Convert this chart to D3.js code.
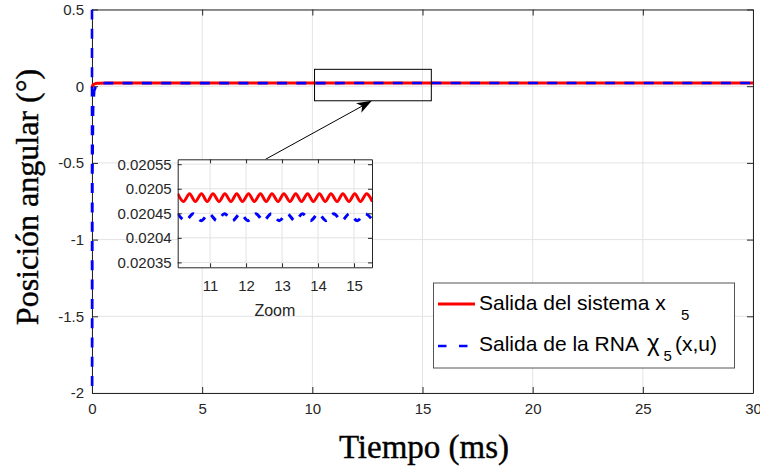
<!DOCTYPE html>
<html>
<head>
<meta charset="utf-8">
<script src="https://cdn.jsdelivr.net/npm/d3@7/dist/d3.min.js"></script>
<style>
body { margin: 0; background: #fff; }
svg { display: block; font-family: "Liberation Sans", Arial, sans-serif; }
</style>
</head>
<body>
<div id="viz"></div>
<script>
//Datos
const mainTicksX = [0, 5, 10, 15, 20, 25, 30];
const mainTickLabelsX = ['0', '5', '10', '15', '20', '25', '30'];
const mainTicksY = [-2, -1.5, -1, -0.5, 0, 0.5];
const mainTickLabelsY = ['-2', '-1.5', '-1', '-0.5', '0', '0.5'];
const zoomTicksX = [11, 12, 13, 14, 15];
const zoomTickLabelsX = ['11', '12', '13', '14', '15'];
const zoomTicksY = [0.02035, 0.0204, 0.02045, 0.0205, 0.02055];
const zoomTickLabelsY = ['0.02035', '0.0204', '0.02045', '0.0205', '0.02055'];

//Salida del sistema (respuesta completa)
const redT = [0, 0.03, 0.08, 0.15, 0.25, 0.4, 0.6, 1, 30];
const redY = [-0.01, 0.005, 0.012, 0.017, 0.019, 0.02, 0.0204, 0.0205, 0.0205];
//Salida de la RNA
const blueT = [0, 0.004, 0.02, 0.05, 0.1, 0.2, 0.35, 0.6, 30];
const blueY = [0.6, -2.3, -0.6, -0.15, -0.03, 0.008, 0.017, 0.0203, 0.0205];

const zoomRedT = [10.10, 10.26, 10.43, 10.59, 10.76, 10.92, 11.08, 11.25, 11.41, 11.58, 11.74, 11.90,
    12.07, 12.23, 12.40, 12.56, 12.72, 12.89, 13.05, 13.22, 13.38, 13.54, 13.71, 13.87, 14.04, 14.20,
    14.36, 14.53, 14.69, 14.86, 15.02, 15.18, 15.35, 15.51];
const zoomRedY = [0.02049, 0.020474, 0.02049, 0.020474, 0.02049, 0.020474, 0.02049, 0.020474, 0.02049,
    0.020474, 0.02049, 0.020474, 0.02049, 0.020474, 0.02049, 0.020474, 0.02049, 0.020474, 0.02049,
    0.020474, 0.02049, 0.020474, 0.02049, 0.020474, 0.02049, 0.020474, 0.02049, 0.020474, 0.02049,
    0.020474, 0.02049, 0.020474, 0.02049, 0.020474];
const zoomBlueT = [10.10, 10.32, 10.53, 10.75, 10.97, 11.19, 11.40, 11.62, 11.84, 12.05, 12.27, 12.49,
    12.70, 12.92, 13.14, 13.36, 13.57, 13.79, 14.01, 14.22, 14.44, 14.66, 14.87, 15.09, 15.31, 15.53];
const zoomBlueY = [0.020449, 0.020435, 0.020449, 0.020435, 0.020449, 0.020435, 0.020449, 0.020435,
    0.020449, 0.020435, 0.020449, 0.020435, 0.020449, 0.020435, 0.020449, 0.020435, 0.020449, 0.020435,
    0.020449, 0.020435, 0.020449, 0.020435, 0.020449, 0.020435, 0.020449, 0.020435];

//Recuadro de zoom y flecha (coordenadas de datos)
const zoomBoxX = [10.1, 15.4];
const zoomBoxY = [-0.095, 0.11];
const arrowFrom = [7.87, -0.477];
const arrowTo = [12.7, -0.095];

//Colores
const COLOR_RED = '#ff0000', COLOR_BLUE = '#0000ff', COLOR_AXIS = '#262626', COLOR_GRID = '#e3e3e3';

let width = 760, height = 472;
let plot = {left: 92, right: 753, top: 9.5, bottom: 393};
let ins = {left: 177.7, right: 372, top: 159.3, bottom: 267.3};

let svg = d3.select('#viz').append('svg')
    .attr('width', width)
    .attr('height', height);

let x = d3.scaleLinear().domain([0, 30]).range([plot.left, plot.right]);
let y = d3.scaleLinear().domain([-2, 0.5]).range([plot.bottom, plot.top]);

//Rejilla
let grid = svg.append('g');
grid.selectAll('.gx').data(mainTicksX).enter().append('line')
    .attr('x1', d => x(d)).attr('x2', d => x(d))
    .attr('y1', plot.top).attr('y2', plot.bottom)
    .attr('stroke', COLOR_GRID);
grid.selectAll('.gy').data(mainTicksY).enter().append('line')
    .attr('y1', d => y(d)).attr('y2', d => y(d))
    .attr('x1', plot.left).attr('x2', plot.right)
    .attr('stroke', COLOR_GRID);

//Ejes
function styleAxis(g, fs) {
    g.attr('font-size', fs).attr('font-family', '"Liberation Sans", Arial, sans-serif');
    g.selectAll('.domain').attr('stroke', COLOR_AXIS);
    g.selectAll('.tick line').attr('stroke', COLOR_AXIS);
    g.selectAll('.tick text').attr('fill', COLOR_AXIS);
}

svg.append('g')
    .attr('transform', 'translate(0,' + plot.bottom + ')')
    .call(d3.axisBottom(x).tickValues(mainTicksX).tickSizeInner(-6).tickSizeOuter(0).tickPadding(10)
        .tickFormat((d, i) => mainTickLabelsX[i]))
    .call(g => styleAxis(g, 15));
svg.append('g')
    .attr('transform', 'translate(' + plot.left + ',0)')
    .call(d3.axisLeft(y).tickValues(mainTicksY).tickSizeInner(-6).tickSizeOuter(0).tickPadding(8)
        .tickFormat((d, i) => mainTickLabelsY[i]))
    .call(g => styleAxis(g, 15));
svg.append('g')
    .attr('transform', 'translate(0,' + plot.top + ')')
    .call(d3.axisTop(x).tickValues(mainTicksX).tickSizeInner(-6).tickSizeOuter(0).tickFormat(''))
    .call(g => styleAxis(g, 15));
svg.append('g')
    .attr('transform', 'translate(' + plot.right + ',0)')
    .call(d3.axisRight(y).tickValues(mainTicksY).tickSizeInner(-6).tickSizeOuter(0).tickFormat(''))
    .call(g => styleAxis(g, 15));

//Curvas principales (sobre los ejes)
svg.append('clipPath').attr('id', 'clipMain').append('rect')
    .attr('x', plot.left - 2).attr('y', plot.top)
    .attr('width', plot.right - plot.left + 4).attr('height', plot.bottom - plot.top);

let line = d3.line().x(d => x(d[0])).y(d => y(d[1])).curve(d3.curveMonotoneX);
let lineLin = d3.line().x(d => x(d[0])).y(d => y(d[1]));

svg.append('path')
    .datum(redT.map((t, i) => [t, redY[i]]))
    .attr('clip-path', 'url(#clipMain)')
    .attr('fill', 'none').attr('stroke', COLOR_RED).attr('stroke-width', 3)
    .attr('d', line);

//Desfase del trazo para que la bajada y la subida junto al eje coincidan
let dashOn = 10, dashPeriod = 19.3;
let drop = Math.hypot(x(blueT[1]) - x(blueT[0]), y(blueY[1]) - y(blueY[0]));
let dashShift = (dashOn - ((2 * drop) % dashPeriod)) / 2;

svg.append('path')
    .datum(blueT.map((t, i) => [t, blueY[i]]))
    .attr('clip-path', 'url(#clipMain)')
    .attr('fill', 'none').attr('stroke', COLOR_BLUE).attr('stroke-width', 2.6)
    .attr('stroke-dasharray', dashOn + ',' + (dashPeriod - dashOn))
    .attr('stroke-dashoffset', dashShift)
    .attr('d', lineLin);

//Títulos de ejes
svg.append('text')
    .attr('x', 424).attr('y', 458)
    .attr('text-anchor', 'middle')
    .attr('font-family', '"Liberation Serif", "Times New Roman", serif')
    .attr('font-size', 33)
    .attr('stroke', '#000').attr('stroke-width', 0.4)
    .attr('fill', '#000')
    .text('Tiempo (ms)');
svg.append('text')
    .attr('transform', 'translate(38,197) rotate(-90)')
    .attr('text-anchor', 'middle')
    .attr('font-family', '"Liberation Serif", "Times New Roman", serif')
    .attr('font-size', 32)
    .attr('stroke', '#000').attr('stroke-width', 0.4)
    .attr('fill', '#000')
    .text('Posición angular (°)');

//Recuadro y flecha
svg.append('rect')
    .attr('x', x(zoomBoxX[0])).attr('y', y(zoomBoxY[1]))
    .attr('width', x(zoomBoxX[1]) - x(zoomBoxX[0]))
    .attr('height', y(zoomBoxY[0]) - y(zoomBoxY[1]))
    .attr('fill', 'none').attr('stroke', '#000').attr('stroke-width', 1);

let ax0 = x(arrowFrom[0]), ay0 = y(arrowFrom[1]), ax1 = x(arrowTo[0]), ay1 = y(arrowTo[1]);
let len = Math.hypot(ax1 - ax0, ay1 - ay0), ux = (ax1 - ax0) / len, uy = (ay1 - ay0) / len;
let headLen = 15, headW = 5.5, notch = 11;
svg.append('line')
    .attr('x1', ax0).attr('y1', ay0)
    .attr('x2', ax1 - ux * notch).attr('y2', ay1 - uy * notch)
    .attr('stroke', '#000').attr('stroke-width', 1);
svg.append('path')
    .attr('d', 'M' + ax1 + ',' + ay1 +
        'L' + (ax1 - ux * headLen - uy * headW) + ',' + (ay1 - uy * headLen + ux * headW) +
        'L' + (ax1 - ux * notch) + ',' + (ay1 - uy * notch) +
        'L' + (ax1 - ux * headLen + uy * headW) + ',' + (ay1 - uy * headLen - ux * headW) + 'Z')
    .attr('fill', '#000');

//Gráfico de zoom
let zx = d3.scaleLinear().domain([10.1, 15.5]).range([ins.left, ins.right]);
let zy = d3.scaleLinear().domain([0.02034, 0.02056]).range([ins.bottom, ins.top]);

let inset = svg.append('g');
inset.append('rect')
    .attr('x', ins.left).attr('y', ins.top)
    .attr('width', ins.right - ins.left).attr('height', ins.bottom - ins.top)
    .attr('fill', '#fff');
inset.selectAll('.zgx').data(zoomTicksX).enter().append('line')
    .attr('x1', d => zx(d)).attr('x2', d => zx(d))
    .attr('y1', ins.top).attr('y2', ins.bottom)
    .attr('stroke', COLOR_GRID);
inset.selectAll('.zgy').data(zoomTicksY).enter().append('line')
    .attr('y1', d => zy(d)).attr('y2', d => zy(d))
    .attr('x1', ins.left).attr('x2', ins.right)
    .attr('stroke', COLOR_GRID);

svg.append('clipPath').attr('id', 'clipZoom').append('rect')
    .attr('x', ins.left).attr('y', ins.top)
    .attr('width', ins.right - ins.left).attr('height', ins.bottom - ins.top);

let zline = d3.line().x(d => zx(d[0])).y(d => zy(d[1])).curve(d3.curveMonotoneX);

inset.append('path')
    .datum(zoomRedT.map((t, i) => [t, zoomRedY[i]]))
    .attr('clip-path', 'url(#clipZoom)')
    .attr('fill', 'none').attr('stroke', COLOR_RED).attr('stroke-width', 3)
    .attr('d', zline);
inset.append('path')
    .datum(zoomBlueT.map((t, i) => [t, zoomBlueY[i]]))
    .attr('clip-path', 'url(#clipZoom)')
    .attr('fill', 'none').attr('stroke', COLOR_BLUE).attr('stroke-width', 3)
    .attr('stroke-dasharray', '7,8')
    .attr('d', zline);

inset.append('g')
    .attr('transform', 'translate(0,' + ins.bottom + ')')
    .call(d3.axisBottom(zx).tickValues(zoomTicksX).tickSizeInner(-4).tickSizeOuter(0).tickPadding(13)
        .tickFormat((d, i) => zoomTickLabelsX[i]))
    .call(g => styleAxis(g, 15));
inset.append('g')
    .attr('transform', 'translate(' + ins.left + ',0)')
    .call(d3.axisLeft(zy).tickValues(zoomTicksY).tickSizeInner(-4).tickSizeOuter(0).tickPadding(6)
        .tickFormat((d, i) => zoomTickLabelsY[i]))
    .call(g => styleAxis(g, 15));
inset.append('g')
    .attr('transform', 'translate(0,' + ins.top + ')')
    .call(d3.axisTop(zx).tickValues(zoomTicksX).tickSizeInner(-4).tickSizeOuter(0).tickFormat(''))
    .call(g => styleAxis(g, 15));
inset.append('g')
    .attr('transform', 'translate(' + ins.right + ',0)')
    .call(d3.axisRight(zy).tickValues(zoomTicksY).tickSizeInner(-4).tickSizeOuter(0).tickFormat(''))
    .call(g => styleAxis(g, 15));
inset.append('text')
    .attr('x', (ins.left + ins.right) / 2).attr('y', 316)
    .attr('text-anchor', 'middle')
    .attr('font-size', 16)
    .attr('fill', COLOR_AXIS)
    .text('Zoom');

//Leyenda
let legend = svg.append('g');
legend.append('rect')
    .attr('x', 433.5).attr('y', 283).attr('width', 301).attr('height', 85)
    .attr('fill', '#fff').attr('stroke', '#555').attr('stroke-width', 1);
legend.append('line')
    .attr('x1', 438).attr('x2', 475).attr('y1', 304).attr('y2', 304)
    .attr('stroke', COLOR_RED).attr('stroke-width', 3);
legend.append('line')
    .attr('x1', 438).attr('x2', 475).attr('y1', 346).attr('y2', 346)
    .attr('stroke', COLOR_BLUE).attr('stroke-width', 2.6)
    .attr('stroke-dasharray', '8.5,12.5');

let t1 = legend.append('text')
    .attr('x', 479).attr('y', 310)
    .attr('font-size', 21).attr('fill', '#000');
t1.append('tspan').text('Salida del sistema x');
t1.append('tspan').attr('x', 681).attr('y', 320).attr('font-size', 15).text('5');

let t2 = legend.append('text')
    .attr('x', 479).attr('y', 351)
    .attr('font-size', 21).attr('fill', '#000');
t2.append('tspan').text('Salida de la RNA');
t2.append('tspan').attr('x', 647).attr('font-size', 24).text('χ');
t2.append('tspan').attr('x', 663.5).attr('y', 361).attr('font-size', 15).text('5');
t2.append('tspan').attr('x', 675).attr('y', 351).text('(x,u)');
</script>
</body>
</html>
